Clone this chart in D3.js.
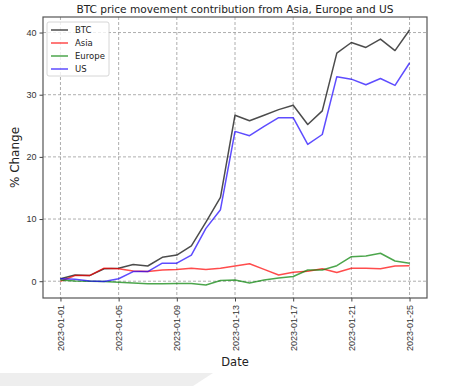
<!DOCTYPE html>
<html>
<head>
<meta charset="utf-8">
<script src="https://cdn.jsdelivr.net/npm/d3@7"></script>
<style>
  body { margin: 0; background: #fff; }
  svg { display: block; font-family: "DejaVu Sans", sans-serif; }
  .grid line { stroke: #999; stroke-dasharray: 3,2; stroke-width: 0.8; }
  .tick text { fill: #333; }
</style>
</head>
<body>
<div id="chart"></div>
<script>
// Data (daily, 2023-01-01 .. 2023-01-25)
const dates = d3.range(25).map(i => new Date(Date.UTC(2023, 0, 1 + i)));
const btc = [0.4, 1.0, 0.9, 2.0, 2.1, 2.7, 2.45, 3.85, 4.2, 5.7, 9.5, 13.5, 26.7, 25.8, 26.7, 27.6, 28.3, 25.2, 27.4, 36.7, 38.4, 37.6, 38.95, 37.1, 40.4];
const asia = [0.0, 0.9, 0.9, 2.1, 2.0, 1.65, 1.55, 1.8, 1.9, 2.1, 1.9, 2.1, 2.45, 2.8, 1.9, 1.0, 1.45, 1.6, 2.0, 1.4, 2.1, 2.1, 2.0, 2.45, 2.5];
const europe = [0.2, 0.05, 0.0, -0.05, -0.15, -0.3, -0.4, -0.4, -0.35, -0.35, -0.6, 0.1, 0.2, -0.3, 0.2, 0.5, 0.75, 1.8, 1.8, 2.5, 3.95, 4.05, 4.5, 3.25, 2.9];
const us = [0.4, 0.3, 0.05, -0.05, 0.4, 1.55, 1.55, 2.9, 2.9, 4.2, 8.5, 11.5, 24.1, 23.4, 24.9, 26.3, 26.3, 22.0, 23.6, 32.9, 32.5, 31.6, 32.6, 31.5, 35.1];
const seriesNames = ["BTC", "Asia", "Europe", "US"];
const seriesColors = ["#000000", "#ff0000", "#008000", "#1a00ff"];
const yTicks = [0, 10, 20, 30, 40];
const xTicks = d3.range(0, 25, 4).map(i => dates[i]);

const W = 460, H = 386;
const margin = { top: 17, right: 33, bottom: 88, left: 43 };
const width = W - margin.left - margin.right;
const height = H - margin.top - margin.bottom;

const series = [btc, asia, europe, us].map((vals, k) => ({
  name: seriesNames[k],
  color: seriesColors[k],
  values: vals.map((v, i) => ({ date: dates[i], value: v }))
}));

const svg = d3.select("#chart").append("svg")
  .attr("width", W)
  .attr("height", H);

// screenshot artefact at the bottom left
svg.append("path")
  .attr("d", "M0,373 L213,373 L193,386 L0,386 Z")
  .attr("fill", "#eeeeee");

const g = svg.append("g").attr("transform", `translate(${margin.left},${margin.top})`);

// scales with matplotlib-like 5% margins
const pad = 1.2 * 864e5;
const x = d3.scaleTime()
  .domain([new Date(+dates[0] - pad), new Date(+dates[24] + pad)])
  .range([0, width]);
const y = d3.scaleLinear()
  .domain([-2.7, 42.5])
  .range([height, 0]);

// grid
g.append("g").attr("class", "grid")
  .selectAll("line.v").data(xTicks).join("line")
  .attr("x1", d => x(d)).attr("x2", d => x(d))
  .attr("y1", 0).attr("y2", height);
g.append("g").attr("class", "grid")
  .selectAll("line.h").data(yTicks).join("line")
  .attr("x1", 0).attr("x2", width)
  .attr("y1", d => y(d)).attr("y2", d => y(d));

// lines
const line = d3.line().x(d => x(d.date)).y(d => y(d.value));
g.append("g").selectAll("path").data(series).join("path")
  .attr("fill", "none")
  .attr("stroke", d => d.color)
  .attr("stroke-opacity", 0.7)
  .attr("stroke-width", 1.5)
  .attr("stroke-linejoin", "round")
  .attr("d", d => line(d.values));

// axes
const xAxis = g.append("g")
  .attr("transform", `translate(0,${height})`)
  .call(d3.axisBottom(x).tickValues(xTicks).tickFormat(d3.utcFormat("%Y-%m-%d")).tickSize(3.5).tickPadding(3));
xAxis.select(".domain").remove();
xAxis.selectAll(".tick line").attr("stroke", "#444");
xAxis.selectAll("text")
  .attr("font-size", 9)
  .attr("transform", "rotate(-90)")
  .attr("text-anchor", "end")
  .attr("x", -7)
  .attr("y", 0)
  .attr("dy", "0.35em");

const yAxis = g.append("g")
  .call(d3.axisLeft(y).tickValues(yTicks).tickSize(3.5).tickPadding(3));
yAxis.select(".domain").remove();
yAxis.selectAll(".tick line").attr("stroke", "#444");
yAxis.selectAll("text").attr("font-size", 9);

// frame
g.append("rect")
  .attr("width", width).attr("height", height)
  .attr("fill", "none").attr("stroke", "#555").attr("stroke-width", 1.2);

// titles
svg.append("text")
  .attr("x", margin.left + width / 2).attr("y", 12.5)
  .attr("text-anchor", "middle").attr("font-size", 10.6).attr("fill", "#222")
  .text("BTC price movement contribution from Asia, Europe and US");
svg.append("text")
  .attr("x", margin.left + width / 2).attr("y", 366)
  .attr("text-anchor", "middle").attr("font-size", 11.5).attr("fill", "#222")
  .text("Date");
svg.append("text")
  .attr("transform", `translate(19,${margin.top + height / 2}) rotate(-90)`)
  .attr("text-anchor", "middle").attr("font-size", 12).attr("fill", "#222")
  .text("% Change");

// legend
const legend = g.append("g").attr("transform", "translate(4,5)");
legend.append("rect")
  .attr("width", 62).attr("height", 54).attr("rx", 2)
  .attr("fill", "#fff").attr("fill-opacity", 0.8)
  .attr("stroke", "#ccc").attr("stroke-width", 0.8);
const item = legend.selectAll("g.item").data(series).join("g")
  .attr("transform", (d, i) => `translate(0,${8 + i * 13})`);
item.append("line")
  .attr("x1", 4).attr("x2", 21)
  .attr("stroke", d => d.color).attr("stroke-opacity", 0.7).attr("stroke-width", 1.5);
item.append("text")
  .attr("x", 28).attr("dy", "0.35em")
  .attr("font-size", 8.5).attr("fill", "#222")
  .text(d => d.name);
</script>
</body>
</html>
